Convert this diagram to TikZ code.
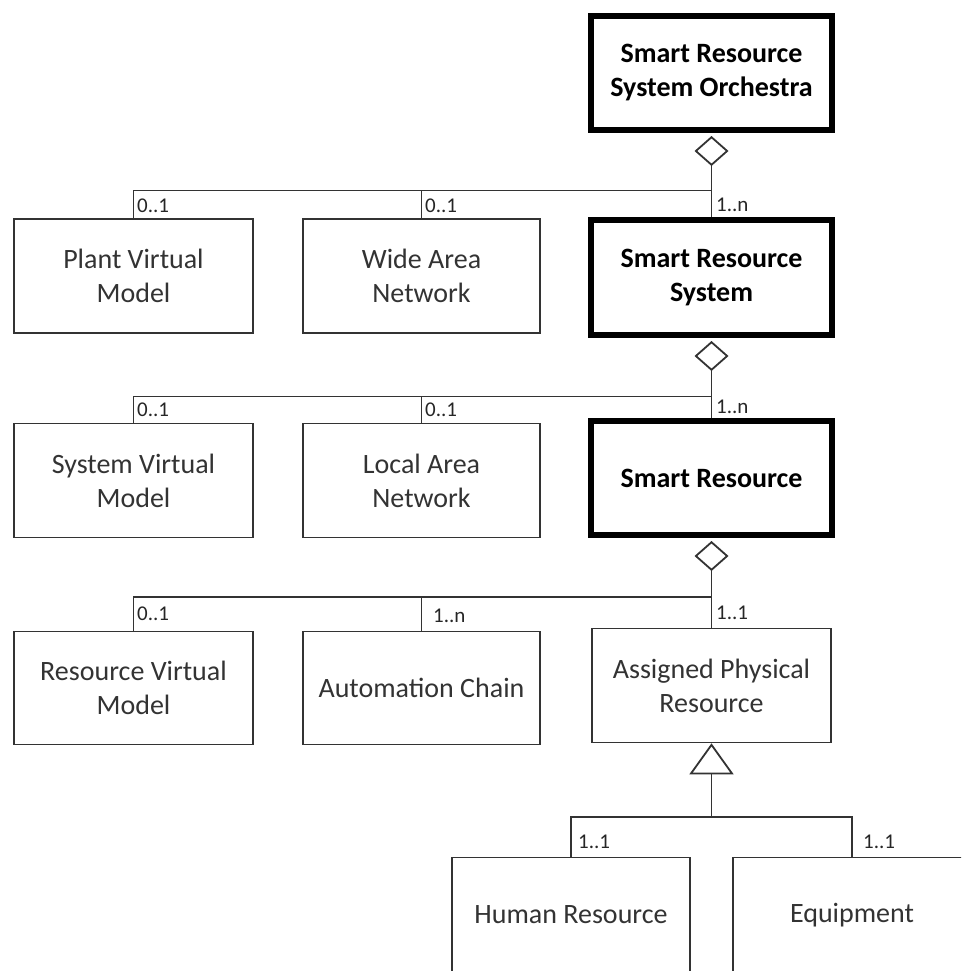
\documentclass[tikz,border=0pt]{standalone}
\usepackage{fontspec}
\setmainfont{Carlito}
\usetikzlibrary{arrows.meta}
\tikzset{
  thinbox/.style={draw=black!80, line width=1.6pt, rectangle, inner sep=0pt, align=center,
    text=black!80, font=\fontsize{28}{34}\selectfont},
  thickbox/.style={draw=black, line width=6pt, rectangle, inner sep=0pt, align=center,
    text=black, font=\fontsize{28}{34}\selectfont\bfseries, minimum width=241pt},
  conn/.style={draw=black!80, line width=1.6pt},
  agg/.style={conn, {Diamond[open,length=30pt,width=34pt,line width=1.8pt]}-},
  gen/.style={conn, {Triangle[open,length=31pt,width=44pt,line width=1.8pt]}-},
  mult/.style={anchor=base west, inner sep=0pt, text=black!85, font=\fontsize{21}{25}\selectfont}
}
\begin{document}
\begin{tikzpicture}[x=1pt,y=-1pt]
\clip (0,0) rectangle (961,971);
\fill[white] (0,0) rectangle (961,971);

% thick boxes
\node[thickbox, minimum height=114pt] (orch) at (711.5,73) {Smart Resource\\System Orchestra};
\node[thickbox, minimum height=115pt] (srs) at (711.5,277.5) {Smart Resource\\System};
\node[thickbox, minimum height=114pt] (sr) at (711.5,478) {Smart Resource};

% row 1
\node[thinbox, minimum width=239pt, minimum height=114pt] (pvm) at (133.5,276) {Plant Virtual\\Model};
\node[thinbox, minimum width=237pt, minimum height=114pt] (wan) at (421.5,276) {Wide Area\\Network};
% row 2
\node[thinbox, minimum width=239pt, minimum height=114pt] (svm) at (133.5,480.5) {System Virtual\\Model};
\node[thinbox, minimum width=237pt, minimum height=114pt] (lan) at (421.5,480.5) {Local Area\\Network};
% row 3
\node[thinbox, minimum width=239pt, minimum height=113pt] (rvm) at (133.5,688) {Resource Virtual\\Model};
\node[thinbox, minimum width=237pt, minimum height=113pt] (ac) at (421.5,688) {Automation Chain};
\node[thinbox, minimum width=239pt, minimum height=114pt] (apr) at (711.5,685.5) {Assigned Physical\\Resource};
% row 4
\node[thinbox, minimum width=238pt, minimum height=115pt] (hr) at (571,915) {Human Resource};
\node[thinbox, minimum width=238pt, minimum height=115pt] (eq) at (852,915) {Equipment};

% junctions
\coordinate (j1) at (711.5,190.5);
\coordinate (j2) at (711.5,396.5);
\coordinate (j3) at (711.5,597);
\coordinate (j4) at (711.5,817);

% aggregation 1
\draw[agg] ([yshift=-3pt]orch.south) -- (srs.north);
\draw[conn] (pvm.north) |- (j1);
\draw[conn] (wan.north) |- (j1);
% aggregation 2
\draw[agg] ([yshift=-3pt]srs.south) -- (sr.north);
\draw[conn] (svm.north) |- (j2);
\draw[conn] (lan.north) |- (j2);
% aggregation 3
\draw[agg] ([yshift=-3pt]sr.south) -- (apr.north);
\draw[conn] (rvm.north) |- (j3);
\draw[conn] (ac.north) |- (j3);
% generalization
\draw[gen] (apr.south) -- (j4);
\draw[conn] (hr.north) |- (j4);
\draw[conn] (eq.north) |- (j4);

% multiplicities
\node[mult] (m1) at (137,212) {0..1};
\node[mult] (m2) at (425,212) {0..1};
\node[mult] (m3) at (716,211) {1..n};
\node[mult] (m4) at (137,416) {0..1};
\node[mult] (m5) at (425,416) {0..1};
\node[mult] (m6) at (716,413) {1..n};
\node[mult] (m7) at (137,620) {0..1};
\node[mult] (m8) at (433,622) {1..n};
\node[mult] (m9) at (716,619) {1..1};
\node[mult] (m10) at (578,848) {1..1};
\node[mult] (m11) at (863,848) {1..1};
\end{tikzpicture}
\end{document}
